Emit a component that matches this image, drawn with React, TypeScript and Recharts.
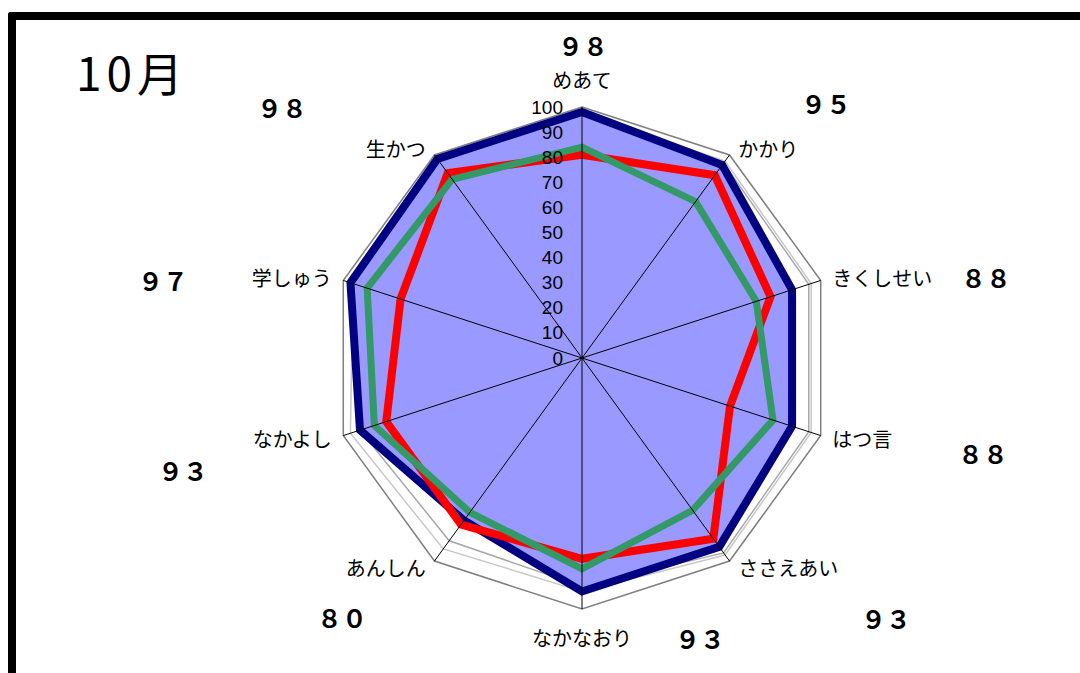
import { RadarChart, Radar, PolarGrid, PolarAngleAxis, PolarRadiusAxis } from "recharts";

const CATEGORIES = ["めあて", "かかり", "きくしせい", "はつ言", "ささえあい", "なかなおり", "あんしん", "なかよし", "学しゅう", "生かつ"];
const BLUE = [98, 95, 88, 88, 93, 93, 80, 93, 97, 98];
const RED = [81, 90, 79, 62, 89, 80, 82, 82, 76, 91];
const GREEN = [84, 77, 73, 80, 75, 84, 76, 87, 90, 88];
const LIGHT = [98, 97, 96, 96, 97, 93, 94, 97, 96, 97];
const GRAY = [97, 96, 95, 95, 96, 91, 90, 93, 95, 96];
const RADIUS_TICKS = [0, 10, 20, 30, 40, 50, 60, 70, 80, 90, 100];
const TITLE = "10月";

const data = CATEGORIES.map((name, i) => ({
  name,
  blue: BLUE[i],
  red: RED[i],
  green: GREEN[i],
  light: LIGHT[i],
  gray: GRAY[i],
}));

// where the big score boxes sit around the chart
const SCORE_POS = [
  { x: 583, y: 45 },
  { x: 826, y: 103 },
  { x: 986, y: 277 },
  { x: 983, y: 453 },
  { x: 886, y: 618 },
  { x: 700, y: 638 },
  { x: 342, y: 617 },
  { x: 183, y: 470 },
  { x: 163, y: 280 },
  { x: 282, y: 107 },
];

const CX = 582;
const CY = 358;
const R = 251;
const JP = "'Noto Sans CJK JP', 'Noto Sans', sans-serif";

const toWide = (n: number) =>
  String(n)
    .split("")
    .map((c) => String.fromCharCode(c.charCodeAt(0) + 0xfee0))
    .join("");

function AngleTick(props: any) {
  const { x, y, payload, textAnchor } = props;
  let dx = 0;
  let dy = 0;
  if (textAnchor === "middle") dy = y < CY ? -20 : 20;
  else dx = textAnchor === "start" ? 4 : -4;
  return (
    <text x={x + dx} y={y + dy} textAnchor={textAnchor} dominantBaseline="central" fontSize={20} fontFamily={JP} fill="#000">
      {payload.value}
    </text>
  );
}

function RadiusTick(props: any) {
  const { x, y, payload } = props;
  return (
    <text
      x={x - 19}
      y={y}
      textAnchor="end"
      dominantBaseline="central"
      fill="#000"
      style={{ fontSize: 19, fontFamily: "'Liberation Sans', Arial, sans-serif" }}
    >
      {payload.value}
    </text>
  );
}

export default function App() {
  return (
    <div style={{ position: "absolute", left: 0, top: 0, width: 1080, height: 673, overflow: "hidden", background: "#fff" }}>
      <div
        style={{
          position: "absolute",
          left: 8,
          top: 12,
          width: 1100,
          height: 700,
          borderTop: "8px solid #000",
          borderLeft: "8px solid #000",
          borderTopLeftRadius: 3,
        }}
      />
      <div
        style={{
          position: "absolute",
          left: 76,
          top: 48,
          fontFamily: JP,
          fontSize: 46,
          fontWeight: 400,
          lineHeight: 1,
          letterSpacing: 5,
          color: "#000",
        }}
      >
        {TITLE}
      </div>

      <div style={{ position: "absolute", left: 0, top: 0 }}>
        <RadarChart width={1080} height={673} data={data} cx={CX} cy={CY} outerRadius={R} startAngle={90} endAngle={-270}>
          <PolarGrid gridType="polygon" radialLines={false} polarRadius={[R]} stroke="#808080" strokeWidth={1.5} />
          <PolarAngleAxis dataKey="name" tick={AngleTick} tickLine={false} axisLine={false} />
          <PolarRadiusAxis angle={90} domain={[0, 100]} ticks={RADIUS_TICKS} tickCount={11} axisLine={false} tickLine={false} tick={RadiusTick} zIndex={2000} />
          <Radar dataKey="light" stroke="#c8c8c8" strokeWidth={1.5} fill="none" fillOpacity={0} isAnimationActive={false} dot={false} />
          <Radar dataKey="gray" stroke="#a8a8a8" strokeWidth={1.5} fill="none" fillOpacity={0} isAnimationActive={false} dot={false} />
          <Radar dataKey="blue" stroke="#000080" strokeWidth={8} strokeLinejoin="miter" fill="#9999ff" fillOpacity={1} isAnimationActive={false} dot={false} />
          <Radar dataKey="red" stroke="#ff0000" strokeWidth={8} strokeLinejoin="miter" fill="none" fillOpacity={0} isAnimationActive={false} dot={false} />
          <Radar dataKey="green" stroke="#339966" strokeWidth={7} strokeLinejoin="miter" fill="none" fillOpacity={0} isAnimationActive={false} dot={false} />
          <PolarGrid gridType="polygon" radialLines polarRadius={[]} stroke="#000" strokeWidth={1} zIndex={1500} />
        </RadarChart>
      </div>

      {BLUE.map((v, i) => (
        <div
          key={CATEGORIES[i]}
          style={{
            position: "absolute",
            left: SCORE_POS[i].x,
            top: SCORE_POS[i].y,
            transform: "translate(-50%, -50%)",
            fontFamily: JP,
            fontSize: 25,
            fontWeight: 700,
            lineHeight: 1,
            whiteSpace: "nowrap",
            color: "#000",
          }}
        >
          {toWide(v)}
        </div>
      ))}
    </div>
  );
}
